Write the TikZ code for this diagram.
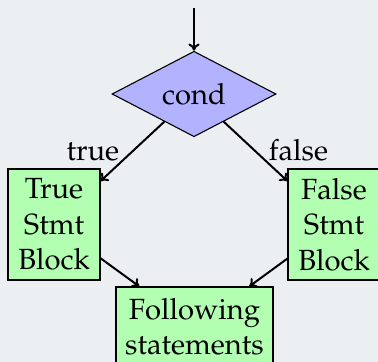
\documentclass[tikz,border=0pt]{standalone}
\usepackage[T1]{fontenc}
\usepackage{mathpazo}
\usetikzlibrary{shapes.geometric,arrows.meta}
\definecolor{pagebg}{RGB}{236,239,241}
\tikzset{
  flowfont/.style={font=\fontsize{14.6pt}{17.75pt}\selectfont},
  decision/.style={diamond, draw=black, line width=0.55pt, fill=blue!30,
    inner sep=0pt, minimum width=82pt, minimum height=40.5pt, flowfont},
  stmtbox/.style={rectangle, draw=black, line width=0.55pt, fill=green!30,
    inner sep=0pt, align=center, flowfont},
  flowarrow/.style={-{To[length=3.6pt,width=5.6pt]}, line width=1pt},
  branchlabel/.style={inner sep=1.5pt, flowfont},
}
\begin{document}
\begin{tikzpicture}[x=0.5pt, y=-0.5pt]
  % page area
  \fill[pagebg] (0,0) rectangle (378,362);
  \useasboundingbox (0,0) rectangle (378,362);
  \clip (0,0) rectangle (378,362);

  % nodes
  \coordinate (entry) at (194,8);
  \node[decision] (cond) at (194,94) {cond};
  \node[stmtbox, minimum width=46pt, minimum height=55.5pt] (tblock) at (54,224.5) {True\\Stmt\\Block};
  \node[stmtbox, minimum width=46pt, minimum height=55.5pt] (fblock) at (334,224.5) {False\\Stmt\\Block};
  \node[stmtbox, minimum width=78.5pt, minimum height=39.5pt] (follow) at (194.5,326.5) {Following\\statements};

  % connectors
  \draw[flowarrow] (entry) -- (cond);
  \draw[flowarrow] (cond) -- node[pos=0.646, anchor=base east, branchlabel] {true} (tblock);
  \draw[flowarrow] (cond) -- node[pos=0.646, anchor=base west, branchlabel] {false} (fblock);
  \draw[flowarrow] (tblock) -- (follow);
  \draw[flowarrow] (fblock) -- (follow);
\end{tikzpicture}
\end{document}
